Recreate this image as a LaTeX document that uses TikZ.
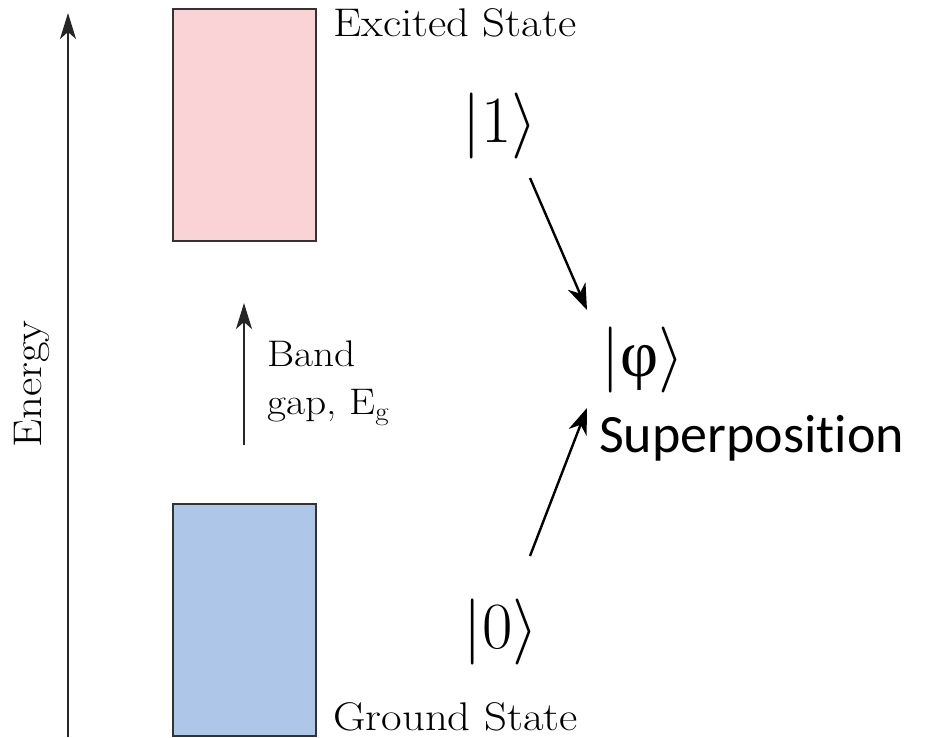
\RequirePackage{fix-cm}
\documentclass[tikz,border=0pt]{standalone}
\usepackage{fontspec}
\setmainfont{Latin Modern Roman}[FakeStretch=1.12]
\newfontfamily\calibri{Carlito}[Ligatures=NoCommon]
\newfontfamily\greekfont{Liberation Serif}
\usetikzlibrary{arrows.meta}
\definecolor{excitedpink}{HTML}{F9D3D6}
\definecolor{groundblue}{HTML}{AEC6E8}

\begin{document}
\begin{tikzpicture}[x=1pt,y=-1pt,band/.style={draw=black!80,line width=2pt,minimum width=143pt,minimum height=232pt,inner sep=0pt},label/.style={inner sep=0pt,font=\fontsize{40}{48}\selectfont},ket/.style={inner sep=0pt,font=\fontsize{66}{72}\selectfont},axis/.style={-{Stealth[length=26pt,width=16pt,inset=7pt]},line width=2pt,draw=black!85},arrow/.style={-{Stealth[length=26pt,width=19pt,inset=8pt]},line width=2.4pt}]
\useasboundingbox (0,0) rectangle (928,737);
% energy axis
\coordinate (ebot) at (68,737);
\coordinate (etop) at (68,13);
\draw[axis] (ebot) -- (etop);
\node[label,rotate=90,anchor=base] (energy) at (41,384) {Energy};
% bands
\node[band,fill=excitedpink] (excited) at (244.5,125) {};
\node[band,fill=groundblue] (ground) at (244.5,620) {};
\node[label,anchor=base west] (exctext) at (333,36) {Excited State};
\node[label,anchor=base west] (gndtext) at (333,730) {Ground State};
% band gap
\coordinate (gapbot) at (244,445);
\coordinate (gaptop) at (244,303);
\draw[axis] (gapbot) -- (gaptop);
\node[inner sep=0pt,font=\fontsize{37}{48}\selectfont,align=left,anchor=north west] (gaptext) at (267,341) {Band\\gap, E\textsubscript{g}};
% qubit states
\node[ket] (one) at (500,126) {$|1\rangle$};
\node[ket] (phi) at (643,360) {$|\mbox{\greekfont φ}\rangle$};
\node[ket] (zero) at (501,632) {$|0\rangle$};
\node[inner sep=0pt,font=\calibri\fontsize{54}{60}\selectfont,anchor=base west] (superpos) at (599,452) {Superposition};
\coordinate (oneout) at (530,178);
\coordinate (phiin) at (587,310);
\coordinate (zeroout) at (530,556);
\coordinate (phiup) at (587,408);
\draw[arrow] (oneout) -- (phiin);
\draw[arrow] (zeroout) -- (phiup);
\end{tikzpicture}
\end{document}
